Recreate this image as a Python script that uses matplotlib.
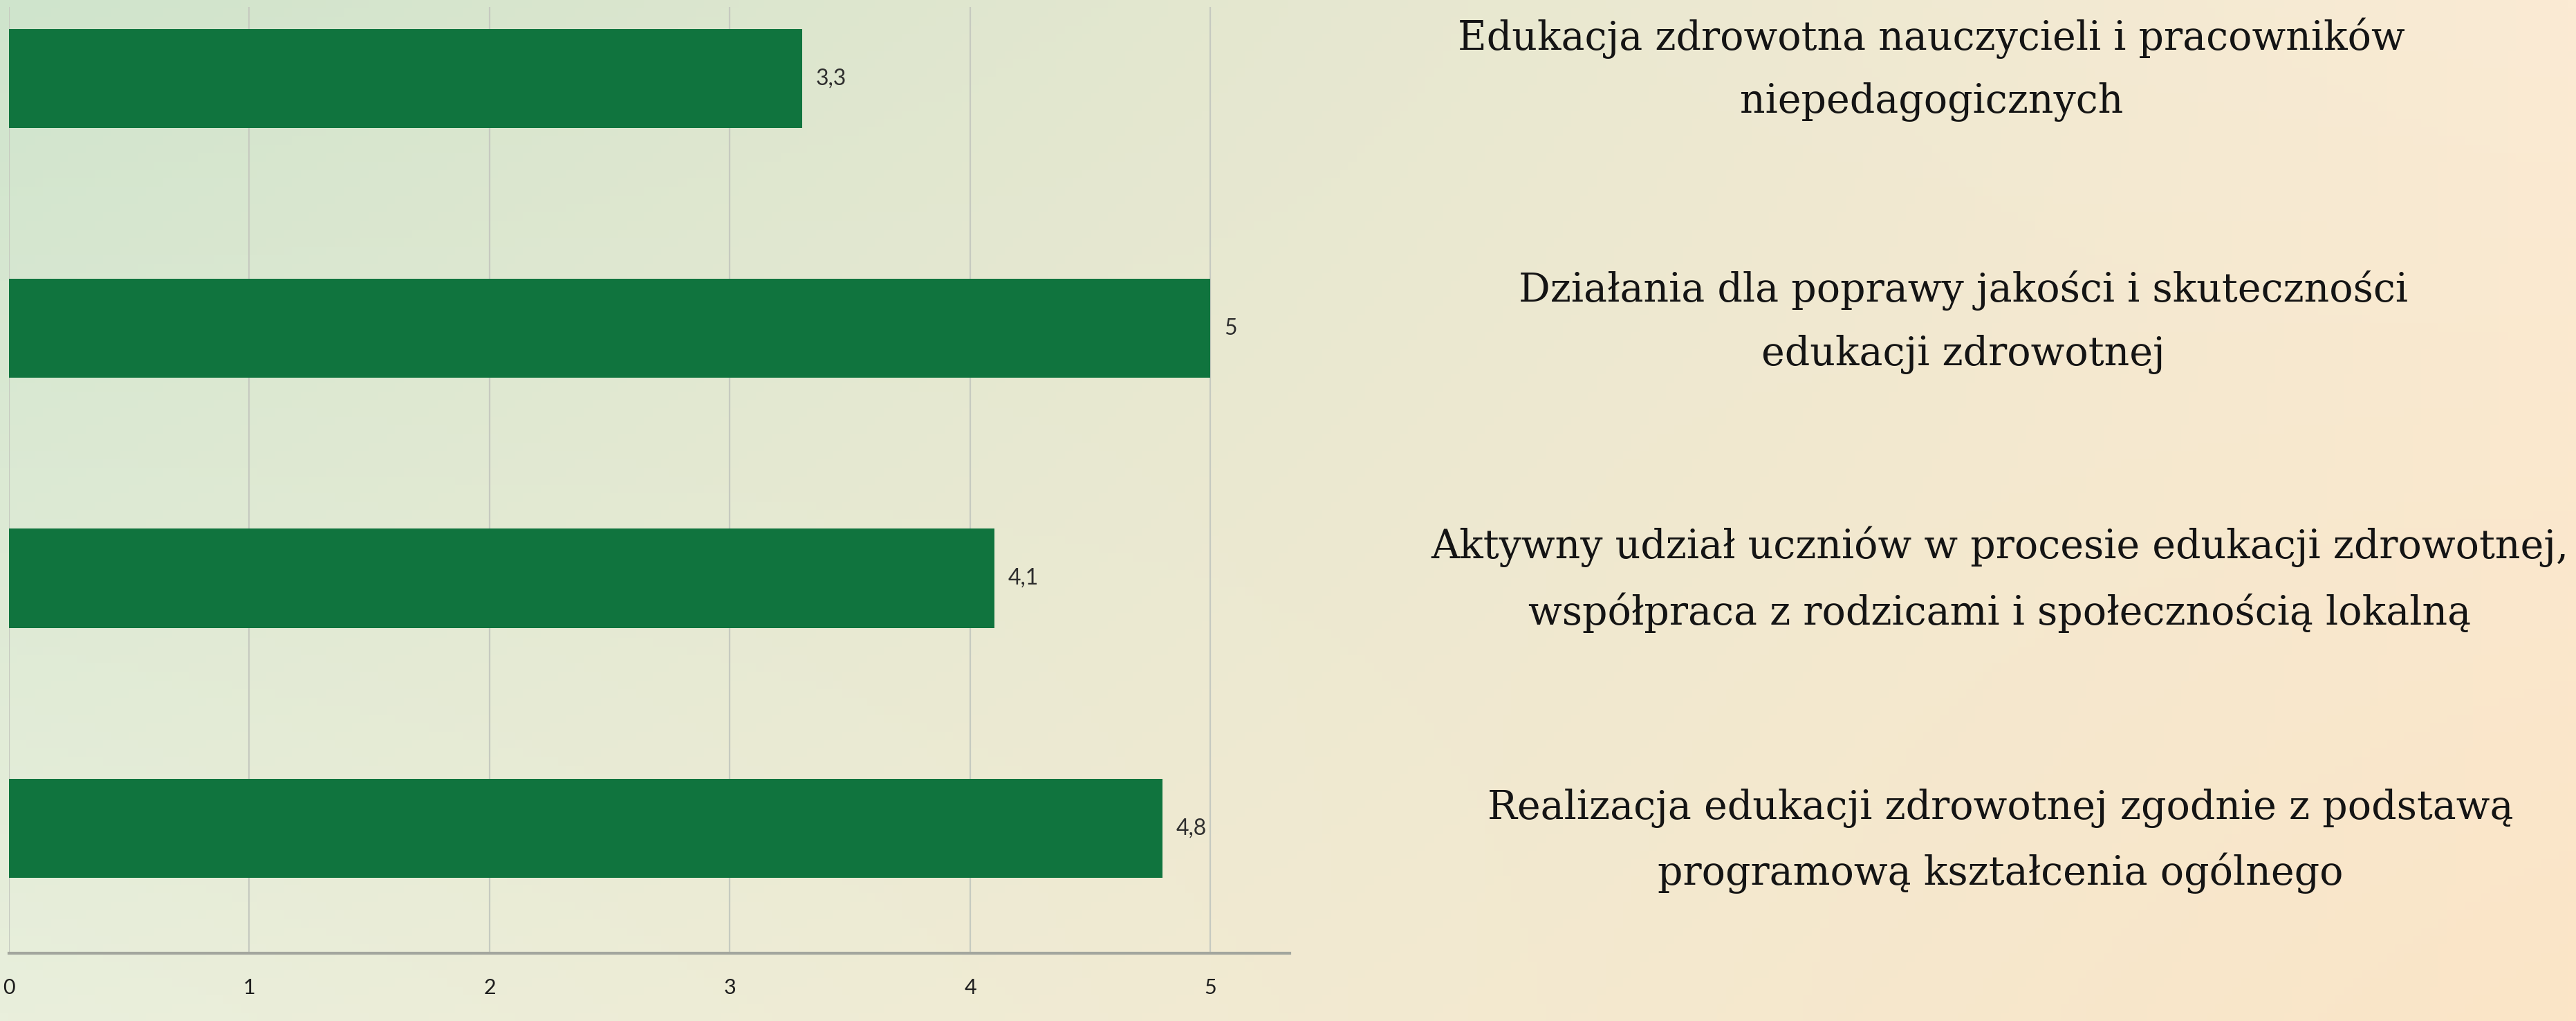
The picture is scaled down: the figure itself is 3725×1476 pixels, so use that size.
import numpy as np
import matplotlib
matplotlib.use("Agg")
from matplotlib import pyplot as plt
from matplotlib.colors import to_rgb

# Data (top to bottom as shown)
categories = [
    "Edukacja zdrowotna nauczycieli i pracowników\nniepedagogicznych",
    "Działania dla poprawy jakości i skuteczności\nedukacji zdrowotnej",
    "Aktywny udział uczniów w procesie edukacji zdrowotnej,\nwspółpraca z rodzicami i społecznością lokalną",
    "Realizacja edukacji zdrowotnej zgodnie z podstawą\nprogramową kształcenia ogólnego",
]
scores = [3.3, 5, 4.1, 4.8]
value_labels = ["3,3", "5", "4,1", "4,8"]
x_ticks = [0, 1, 2, 3, 4, 5]
x_tick_labels = ["0", "1", "2", "3", "4", "5"]

W, H = 3725, 1476
DPI = 100
BAR_COLOR = "#10743e"

fig = plt.figure(figsize=(W / DPI, H / DPI), dpi=DPI)

# Background gradient: pale green (top-left) to warm cream (bottom-right)
bg = fig.add_axes([0, 0, 1, 1], zorder=-1)
tl, tr = np.array(to_rgb("#cfe4cc")), np.array(to_rgb("#fbebd4"))
bl, br = np.array(to_rgb("#e9efdc")), np.array(to_rgb("#fbe5c7"))
u = np.linspace(0, 1, 300)[None, :, None]
v = np.linspace(0, 1, 120)[:, None, None]
grad = (1 - v) * ((1 - u) * tl + u * tr) + v * ((1 - u) * bl + u * br)
bg.imshow(grad, aspect="auto", extent=[0, 1, 0, 1], origin="upper")
bg.axis("off")

# Main bar axes, placed in pixel terms
x0_px, px_per_unit = 13, 347.5
base_px, top_px = 1378, 10
xmax = 5.33
ax = fig.add_axes([x0_px / W, (H - base_px) / H,
                   xmax * px_per_unit / W, (base_px - top_px) / H])
ax.set_facecolor("none")

ypos = np.arange(len(scores))[::-1]
ax.barh(ypos, scores, height=0.396, color=BAR_COLOR, zorder=3)

for y, val, lab in zip(ypos, scores, value_labels):
    ax.annotate(lab, (val, y), xytext=(14, 0), textcoords="offset points",
                va="center", ha="left", fontsize=23, color="#2e2e2e",
                family=["Lato", "DejaVu Sans"])

ax.set_xlim(0, xmax)
ax.set_ylim(-0.5, 3.286)
ax.set_xticks(x_ticks)
ax.set_xticklabels(x_tick_labels, fontsize=22, color="#1e1e1e",
                   family=["Lato", "DejaVu Sans"])
ax.set_yticks([])
ax.tick_params(axis="x", length=0, pad=26)
ax.grid(axis="x", color="#c6cac0", linewidth=1.6, zorder=0)
for s in ["top", "right", "left"]:
    ax.spines[s].set_visible(False)
ax.spines["bottom"].set_color("#a3a69e")
ax.spines["bottom"].set_linewidth(3)

# Category descriptions on the right
label_x = [2793, 2839, 2892, 2893]
label_y = [101, 466, 838, 1216]
for txt, lx, ly in zip(categories, label_x, label_y):
    fig.text(lx / W, 1 - ly / H, txt, ha="center", va="center",
             multialignment="center", fontsize=41, linespacing=1.78,
             family="DejaVu Serif", color="#141414")

fig.savefig("out.png", dpi=DPI)
